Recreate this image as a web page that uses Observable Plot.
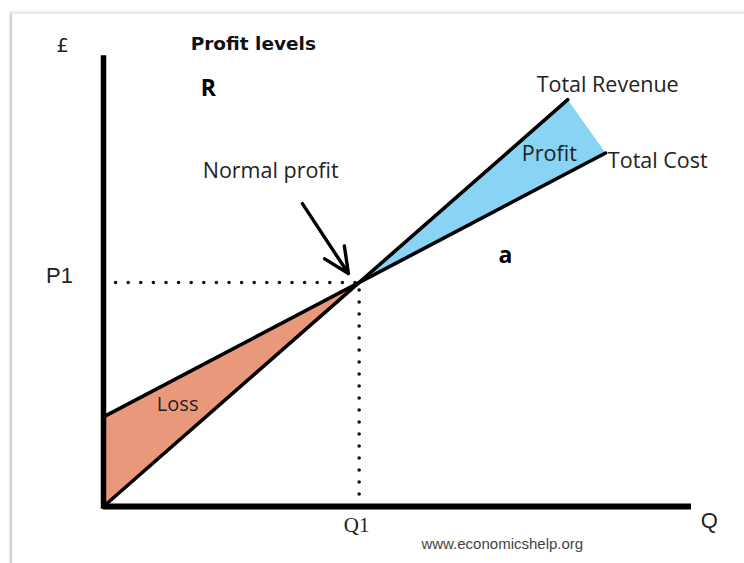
<!DOCTYPE html>
<html>
<head>
<meta charset="utf-8">
<script src="https://cdn.jsdelivr.net/npm/d3@7"></script>
<script src="https://cdn.jsdelivr.net/npm/@observablehq/plot@0.6"></script>
<style>
  html, body { margin: 0; padding: 0; background: #fff; }
  #wrap { position: relative; width: 744px; height: 563px; overflow: hidden; }
  #frame { position: absolute; left: 10px; top: 12px; width: 760px; height: 580px;
           border-left: 2px solid #d2d2d2; border-top: 2px solid #e8e8e8;
           box-shadow: -1px -1px 2px rgba(0,0,0,0.08); }
  #chart { position: absolute; left: 0; top: 0; }
</style>
</head>
<body>
<div id="wrap"><div id="frame"></div><div id="chart"></div></div>
<script>
// Quantity (Q) and money (£) values
const Q1 = 5;
const P1 = 5;
const revenueQ = [0, 9.08];
const revenueP = [0, 9.08];
const costQ = [0, 9.82];
const costP = [2, 7.89];
const profitQ = [5, 9.08, 9.82];
const profitP = [5, 9.08, 7.89];
const lossQ = [0, 0, 5];
const lossP = [0, 2, 5];
const arrowQ = [3.89, 4.79];
const arrowP = [6.76, 5.2];

const labelText = ["£", "Profit levels", "R", "Normal profit", "P1", "Total Revenue", "Profit", "Total Cost", "a", "Loss", "Q1", "Q", "www.economicshelp.org"];
const labelQ = [-0.80, 2.93, 2.05, 3.27, -0.86, 9.86, 8.72, 10.84, 7.86, 1.45, 4.95, 11.85, 7.80];
const labelP = [10.29, 10.33, 9.33, 7.48, 5.15, 9.40, 7.86, 7.70, 5.60, 2.28, -0.42, -0.33, -0.85];

const pts = (qs, ps) => qs.map((q, i) => ({q, p: ps[i]}));
const labels = labelText.map((t, i) => ({t, q: labelQ[i], p: labelP[i]}));
const pick = (names) => labels.filter(d => names.includes(d.t));

const sans = "'Open Sans', 'DejaVu Sans', sans-serif";

const chart = Plot.plot({
  width: 744,
  height: 563,
  marginLeft: 103,
  marginRight: 53,
  marginTop: 58,
  marginBottom: 57,
  x: {domain: [0, 11.5], axis: null},
  y: {domain: [0, 10], axis: null},
  style: {background: "transparent", overflow: "visible"},
  marks: [
    // shaded regions
    Plot.line(pts(lossQ, lossP), {x: "q", y: "p", fill: "#E9987C", stroke: "none"}),
    Plot.line(pts(profitQ, profitP), {x: "q", y: "p", fill: "#89D3F4", stroke: "none"}),
    // dotted guides
    Plot.ruleY([P1], {x1: 0, x2: Q1, stroke: "#111", strokeWidth: 3.6, strokeDasharray: "0,12.6", strokeLinecap: "round"}),
    Plot.ruleX([Q1], {y1: 0, y2: P1, stroke: "#111", strokeWidth: 3.6, strokeDasharray: "0,12", strokeLinecap: "round"}),
    // total revenue and total cost
    Plot.line(pts(revenueQ, revenueP), {x: "q", y: "p", stroke: "#000", strokeWidth: 3.6}),
    Plot.line(pts(costQ, costP), {x: "q", y: "p", stroke: "#000", strokeWidth: 3.6}),
    // axes
    Plot.ruleX([0], {y1: 0, y2: 10, stroke: "#000", strokeWidth: 5.5, strokeLinecap: "square"}),
    Plot.ruleY([0], {x1: 0, x2: 11.5, stroke: "#000", strokeWidth: 6, strokeLinecap: "butt"}),
    // arrow
    Plot.arrow([{x1: arrowQ[0], y1: arrowP[0], x2: arrowQ[1], y2: arrowP[1]}], {
      x1: "x1", y1: "y1", x2: "x2", y2: "y2", stroke: "#000", strokeWidth: 3.4, headLength: 17, headAngle: 50, bend: 0, insetEnd: 0
    }),
    // labels
    Plot.text(pick(["£"]), {x: "q", y: "p", text: "t", fontSize: 20, fontFamily: "'DejaVu Sans', sans-serif", fill: "#222"}),
    Plot.text(pick(["Profit levels"]), {x: "q", y: "p", text: "t", fontSize: 18.5, fontWeight: "bold", fontFamily: "'DejaVu Sans', sans-serif", fill: "#111"}),
    Plot.text(pick(["R", "a"]), {x: "q", y: "p", text: "t", fontSize: 23, fontWeight: "bold", fontFamily: "'Open Sans', sans-serif", fill: "#000"}),
    Plot.text(pick(["Normal profit", "Total Revenue", "Total Cost"]), {x: "q", y: "p", text: "t", fontSize: 21.5, fontFamily: sans, fill: "#222"}),
    Plot.text(pick(["Profit"]), {x: "q", y: "p", text: "t", fontSize: 21.5, fontFamily: sans, fill: "#222"}),
    Plot.text(pick(["Loss"]), {x: "q", y: "p", text: "t", fontSize: 20, fontFamily: sans, fill: "#222"}),
    Plot.text(pick(["P1"]), {x: "q", y: "p", text: "t", fontSize: 22, fontFamily: "'Liberation Sans', Arial, sans-serif", fill: "#222"}),
    Plot.text(pick(["Q"]), {x: "q", y: "p", text: "t", fontSize: 22, fontFamily: "'Liberation Sans', Arial, sans-serif", fill: "#222"}),
    Plot.text(pick(["Q1"]), {x: "q", y: "p", text: "t", fontSize: 21, fontFamily: "'Liberation Serif', serif", fill: "#222"}),
    Plot.text(pick(["www.economicshelp.org"]), {x: "q", y: "p", text: "t", fontSize: 15, fontFamily: "'Liberation Sans', Arial, sans-serif", fill: "#444"})
  ]
});
document.getElementById("chart").appendChild(chart);
</script>
</body>
</html>
